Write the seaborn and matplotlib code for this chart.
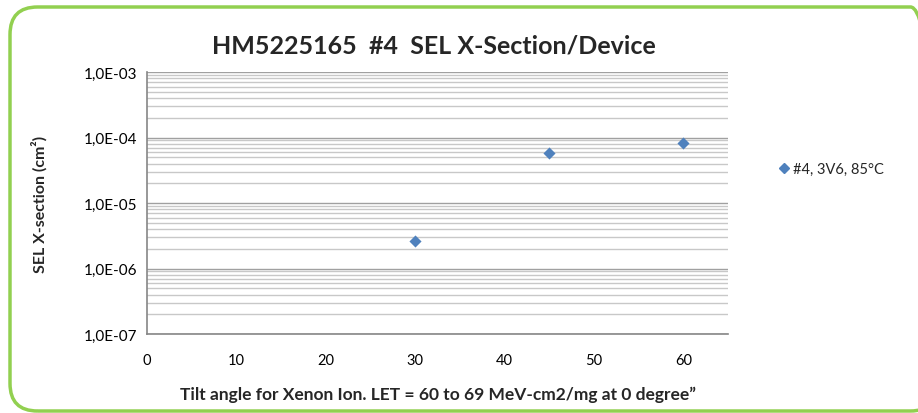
import matplotlib
matplotlib.use("Agg")
import matplotlib.pyplot as plt
import seaborn as sns
import pandas as pd
import numpy as np
from matplotlib.patches import FancyBboxPatch
from matplotlib.ticker import LogLocator, FixedLocator, NullFormatter
from matplotlib.lines import Line2D

# Data
tilt_angle = [30, 45, 60]
cross_section = [2.65e-6, 5.7e-5, 8.1e-5]
series_name = "#4, 3V6, 85°C"
x_ticks = [0, 10, 20, 30, 40, 50, 60]
y_ticks = [1e-7, 1e-6, 1e-5, 1e-4, 1e-3]
y_tick_labels = ["1,0E-07", "1,0E-06", "1,0E-05", "1,0E-04", "1,0E-03"]
title = "HM5225165  #4  SEL X-Section/Device"
x_label = "Tilt angle for Xenon Ion. LET = 60 to 69 MeV-cm2/mg at 0 degree\u201d"
y_label = "SEL X-section (cm\u00b2)"

df = pd.DataFrame({"angle": tilt_angle, "xs": cross_section, "series": series_name})

sns.set_theme(style="white")
plt.rcParams["font.family"] = ["Lato", "DejaVu Sans"]

W, H = 918, 414
fig = plt.figure(figsize=(W / 100, H / 100), dpi=100)
fig.patch.set_facecolor("white")

# rounded green border
border = FancyBboxPatch((10 / W, 2 / H), (W + 20 - 10) / W, (H - 8 - 2) / H,
                        boxstyle="round,pad=0,rounding_size=0.03",
                        transform=fig.transFigure, fill=False,
                        edgecolor="#92D050", linewidth=2.5, zorder=0,
                        mutation_aspect=W / H)
fig.patches.append(border)

ax = fig.add_axes([147 / W, 1 - 335 / H, (728 - 147) / W, (335 - 73) / H])
ax.set_facecolor("white")

sns.scatterplot(data=df, x="angle", y="xs", marker="D", s=38, color="#4F81BD",
                edgecolor="#4F81BD", linewidth=0, ax=ax, legend=False, zorder=3)

ax.set_yscale("log")
ax.set_ylim(1e-7, 1e-3)
ax.set_xlim(0, 65)
ax.set_xticks(x_ticks)
ax.set_xticklabels([str(t) for t in x_ticks], fontsize=10.5)
ax.yaxis.set_major_locator(FixedLocator(y_ticks))
ax.set_yticklabels(y_tick_labels, fontsize=11)
ax.yaxis.set_minor_locator(LogLocator(base=10, subs=np.arange(2, 10), numticks=20))
ax.yaxis.set_minor_formatter(NullFormatter())

ax.grid(axis="y", which="major", color="#A0A0A0", linewidth=1.0, zorder=0)
ax.grid(axis="y", which="minor", color="#C8C8C8", linewidth=1.0, zorder=0)
ax.grid(axis="x", which="both", visible=False)

for s in ["top", "right"]:
    ax.spines[s].set_visible(False)
for s in ["left", "bottom"]:
    ax.spines[s].set_color("#868686")
    ax.spines[s].set_linewidth(1.2)

ax.tick_params(axis="both", which="major", direction="out", length=4, color="#868686",
               width=1, labelcolor="black")
ax.tick_params(axis="x", pad=10)
ax.tick_params(axis="y", pad=3)
ax.tick_params(axis="y", which="minor", length=0)

ax.set_xlabel(x_label, fontsize=12.5, fontweight="bold", labelpad=13)
ax.set_ylabel(y_label, fontsize=11.5, fontweight="bold", labelpad=26)

fig.text(434 / W, 1 - 46 / H, title, fontsize=18, fontweight="bold",
         ha="center", va="center")

handle = Line2D([], [], marker="D", linestyle="none", color="#4F81BD", markersize=5)
fig.legend([handle], [series_name], loc="center left",
           bbox_to_anchor=(764 / W, 1 - 170 / H), frameon=False, fontsize=10.5,
           handletextpad=0.1, handlelength=1.0)

fig.savefig("out.png", dpi=100, facecolor="white")
